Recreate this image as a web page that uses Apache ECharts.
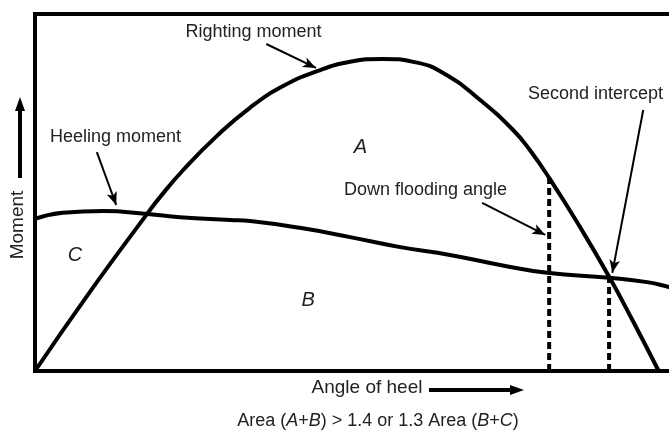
<!DOCTYPE html>
<html>
<head>
<meta charset="utf-8">
<script src="https://cdn.jsdelivr.net/npm/echarts@6/dist/echarts.min.js"></script>
<style>
  html, body { margin: 0; padding: 0; background: #fff; }
  #chart { width: 669px; height: 434px; }
</style>
</head>
<body>
<div id="chart"></div>
<script>
// angle of heel / moment on an arbitrary 0-100 scale
const rightingX = [0, 8.5, 17.4, 19.4, 23.0, 28.2, 33.4, 38.5, 43.8, 48.9, 54.0, 58.7, 63.9, 69.1, 74.2, 76.8, 79.9, 84.6, 89.2, 92.8, 96.8]
const rightingY = [0, 22.1, 44.0, 48.7, 56.3, 65.8, 73.8, 79.8, 84.0, 86.6, 87.4, 86.6, 82.9, 75.9, 67.5, 61.9, 53.8, 40.3, 26.1, 14.0, 0]

const heelingX = [0, 4.3, 10.6, 17.4, 22.5, 30.3, 33.4, 41.1, 48.9, 56.7, 64.4, 72.2, 79.5, 89.2, 95.0, 98.4, 100]
const heelingY = [42.6, 44.3, 44.8, 44.0, 43.1, 42.3, 42.0, 40.1, 37.5, 34.7, 32.5, 29.7, 27.5, 26.1, 24.9, 23.5, 22.7]

// vertical markers: [angle, moment at top]
const downFlooding = [79.8, 54.1]
const secondIntercept = [89.1, 26.1]

// labels: [x, y, text]
const noteText = [
  [33.9, 95.0, 'Righting moment'],
  [12.5, 65.5, 'Heeling moment'],
  [60.6, 50.7, 'Down flooding angle']
]
const areaText = [
  [50.5, 62.5, 'A'],
  [42.4, 19.9, 'B'],
  [6.2, 32.5, 'C']
]
// pointer arrows: [x1, y1, x2, y2]
const pointers = [
  [35.9, 91.6, 43.6, 84.9],
  [9.6, 61.3, 12.6, 46.5],
  [94.4, 73.1, 89.6, 27.5],
  [69.4, 47.1, 79.2, 38.1]
]

const FONT = '"Liberation Sans", Arial, sans-serif'
const INK = '#222'
const frame = { show: true, lineStyle: { color: '#000', width: 4, cap: 'square' } }
const bare = {
  type: 'value', axisTick: { show: false }, axisLabel: { show: false }, splitLine: { show: false }
}

const chart = echarts.init(document.getElementById('chart'), null, { renderer: 'canvas' })

const zip = (xs, ys) => xs.map((x, i) => [x, ys[i]])

chart.setOption({
  animation: false,
  backgroundColor: '#fff',
  grid: { left: 35, top: 14, right: 0, bottom: 63 },
  xAxis: [
    { ...bare, min: 0, max: 98.4, position: 'bottom', axisLine: frame },
    { ...bare, min: 0, max: 98.4, position: 'top', axisLine: frame }
  ],
  yAxis: { ...bare, min: 0, max: 100, position: 'left', axisLine: frame },
  series: [
    {
      name: 'Righting moment',
      type: 'line',
      smooth: 0.5,
      showSymbol: false,
      lineStyle: { color: '#000', width: 4 },
      data: zip(rightingX, rightingY),
      markLine: {
        silent: true,
        symbol: ['none', 'arrow'],
        symbolSize: [8, 13],
        label: { show: false },
        lineStyle: { color: '#000', width: 2, type: 'solid' },
        data: pointers.map((p) => [
          { coord: [p[0], p[1]] },
          { coord: [p[2], p[3]] }
        ])
      }
    },
    {
      name: 'Heeling moment',
      type: 'line',
      smooth: 0.5,
      showSymbol: false,
      lineStyle: { color: '#000', width: 4 },
      data: zip(heelingX, heelingY)
    },
    {
      name: 'Down flooding angle',
      type: 'line',
      showSymbol: false,
      lineStyle: { color: '#000', width: 4, type: [7, 4] },
      data: [[downFlooding[0], 0], downFlooding]
    },
    {
      name: 'Second intercept',
      type: 'line',
      showSymbol: false,
      lineStyle: { color: '#000', width: 4, type: [7, 4] },
      data: [[secondIntercept[0], 0], secondIntercept]
    },
    {
      name: 'notes',
      type: 'scatter',
      symbolSize: 0,
      silent: true,
      itemStyle: { opacity: 1 },
      label: {
        show: true, position: 'inside', formatter: (p) => p.data[2],
        color: INK, fontFamily: FONT, fontSize: 18
      },
      data: noteText
    },
    {
      name: 'areas',
      type: 'scatter',
      symbolSize: 0,
      silent: true,
      itemStyle: { opacity: 1 },
      label: {
        show: true, position: 'inside', formatter: (p) => p.data[2],
        color: INK, fontFamily: FONT, fontSize: 20, fontStyle: 'italic'
      },
      data: areaText
    }
  ],
  graphic: [
    {
      type: 'text', left: 528, top: 85,
      style: { text: 'Second intercept', fill: INK, font: '18px ' + FONT }
    },
    {
      type: 'text', x: 18, y: 225, rotation: Math.PI / 2,
      style: { text: 'Moment', fill: INK, font: '19px ' + FONT, align: 'center', verticalAlign: 'middle' }
    },
    { type: 'line', shape: { x1: 20, y1: 178, x2: 20, y2: 108 }, style: { stroke: '#000', lineWidth: 4 } },
    { type: 'polygon', shape: { points: [[20, 97], [15, 111], [25, 111]] }, style: { fill: '#000' } },
    {
      type: 'text', x: 367, y: 388,
      style: { text: 'Angle of heel', fill: INK, font: '19px ' + FONT, align: 'center', verticalAlign: 'middle' }
    },
    { type: 'line', shape: { x1: 429, y1: 390, x2: 512, y2: 390 }, style: { stroke: '#000', lineWidth: 4 } },
    { type: 'polygon', shape: { points: [[524, 390], [510, 385], [510, 395]] }, style: { fill: '#000' } },
    {
      type: 'text', x: 378, y: 421,
      style: {
        text: 'Area ({i|A}+{i|B}) > 1.4 or 1.3 Area ({i|B}+{i|C})',
        fill: INK, font: '18px ' + FONT, align: 'center', verticalAlign: 'middle',
        rich: { i: { fontStyle: 'italic', fontFamily: FONT, fontSize: 18, fill: INK } }
      }
    }
  ]
})
</script>
</body>
</html>
